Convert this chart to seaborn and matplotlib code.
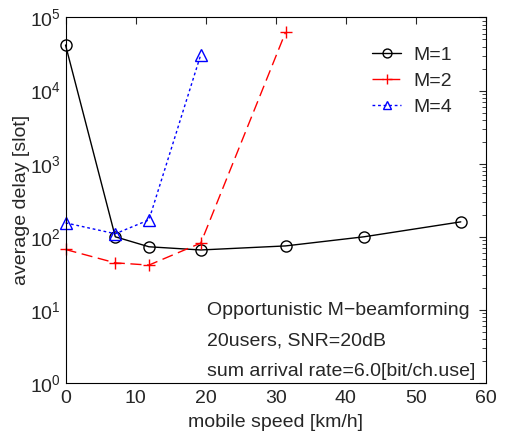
import numpy as np
import pandas as pd
import matplotlib
matplotlib.use("Agg")
import matplotlib.pyplot as plt
import seaborn as sns

# ---------------- data ----------------
speed_m1 = [0.0, 7.1, 11.9, 19.3, 31.4, 42.6, 56.4]
delay_m1 = [42000, 100, 73, 66, 75, 100, 160]

speed_m2 = [0.0, 7.1, 11.9, 19.3, 31.4]
delay_m2 = [67, 44, 41, 82, 63000]

speed_m4 = [0.0, 7.1, 11.9, 19.3]
delay_m4 = [155, 110, 170, 31000]

labels = ["M=1", "M=2", "M=4"]
note_lines = ["Opportunistic M\u2212beamforming",
              "20users, SNR=20dB",
              "sum arrival rate=6.0[bit/ch.use]"]

# ---------------- style ----------------
sns.set_style("white")
plt.rcParams['font.family'] = ['Liberation Sans', 'DejaVu Sans']
plt.rcParams['mathtext.fontset'] = 'custom'
plt.rcParams['mathtext.rm'] = 'Liberation Sans'

fig = plt.figure(figsize=(5.06, 4.32), dpi=100)
ax = fig.add_axes([0.1295, 0.1135, 0.831, 0.846])

series = [
    (speed_m1, delay_m1, labels[0], "black", "-", "o", 8),
    (speed_m2, delay_m2, labels[1], "red", (0, (8, 4)), "+", 9),
    (speed_m4, delay_m4, labels[2], "blue", (0, (2, 2)), "^", 8),
]
for xs, ys, lab, col, ls, mk, ms in series:
    df = pd.DataFrame({"speed": xs, "delay": ys})
    sns.lineplot(data=df, x="speed", y="delay", ax=ax, color=col,
                 linestyle=ls, marker=mk, markersize=ms, linewidth=1.0,
                 markerfacecolor="none", markeredgecolor=col,
                 markeredgewidth=1.0, label=lab, clip_on=False)

ax.set_yscale("log")
ax.set_xlim(0, 60)
ax.set_ylim(1, 1e5)
ax.set_xticks([0, 10, 20, 30, 40, 50, 60])
ax.tick_params(axis="both", which="both", direction="in", top=True,
               right=True, labelsize=14)
ax.tick_params(axis="x", pad=5)
ax.tick_params(which="major", length=5)
ax.tick_params(which="minor", length=3)
ax.yaxis.set_minor_locator(matplotlib.ticker.LogLocator(base=10, subs=np.arange(2, 10)))
for sp in ax.spines.values():
    sp.set_color("black")
    sp.set_linewidth(0.8)

ax.set_xlabel("mobile speed [km/h]", fontsize=14, labelpad=5)
ax.set_ylabel("average delay [slot]", fontsize=14, labelpad=0)

leg = ax.legend(loc="upper right", frameon=False, fontsize=14,
                handlelength=1.5, handletextpad=0.6, labelspacing=0.45,
                markerscale=0.8, bbox_to_anchor=(0.96, 0.97))

for i, line in enumerate(note_lines):
    ax.text(0.336, 0.198 - i * 0.083, line, transform=ax.transAxes,
            fontsize=14, va="center", ha="left")

fig.savefig("out.png", dpi=100)
